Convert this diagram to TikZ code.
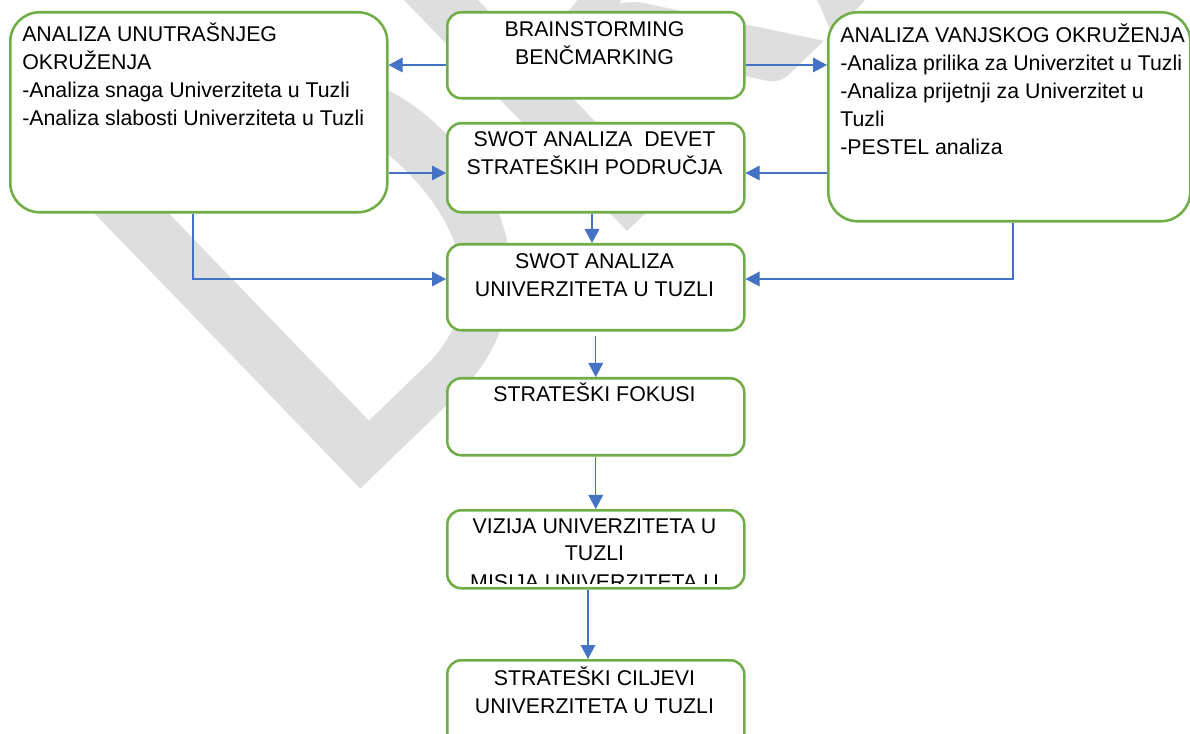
\documentclass[tikz,border=0pt]{standalone}
\usepackage{fontspec}
\setmainfont{Liberation Sans}
\newfontfamily\wmfont{Carlito}
\usetikzlibrary{arrows.meta,calc}
\definecolor{boxgreen}{RGB}{112,173,71}
\definecolor{arrblue}{RGB}{68,114,196}
\definecolor{wmgray}{RGB}{222,222,222}
\begin{document}
\begin{tikzpicture}[x=0.75pt,y=-0.75pt,
  box/.style={draw=boxgreen, line width=1.9pt, fill=white, rounded corners=10.5pt, inner sep=0pt, anchor=north west},
  bigbox/.style={box, rounded corners=22pt},
  txt/.style={inner sep=0pt, font=\fontsize{16}{21}\selectfont, text=black},
  arr/.style={draw=arrblue, line width=0.8pt, -{Triangle[length=10.5pt,width=11pt]}},
]
\useasboundingbox (0,0) rectangle (1190,734);
% watermark
\node[rotate=44, anchor=base west, inner sep=0pt, text=wmgray, font=\wmfont\fontsize{450}{450}\selectfont] (wm) at (331,518) {DRAFT};

% boxes
\node[bigbox, minimum width=282.75pt, minimum height=150pt] (lb) at (9,11) {};
\node[box, minimum width=222.75pt, minimum height=64.5pt] (bs) at (446,11) {};
\node[box, minimum width=222.75pt, minimum height=66.75pt] (sd) at (446,122) {};
\node[bigbox, minimum width=271.5pt, minimum height=156.75pt] (rb) at (827,11) {};
\node[box, minimum width=222.75pt, minimum height=64.5pt] (su) at (446,243) {};
\node[box, minimum width=222.75pt, minimum height=57.75pt] (fk) at (446,377) {};
\node[box, minimum width=222.75pt, minimum height=58.5pt] (vz) at (446,509) {};
\node[box, minimum width=222.75pt, minimum height=67.5pt] (cj) at (446,659) {};

% texts (base anchor = baseline of the last line)
\node[txt, anchor=base west, align=left] (lbt) at (22,126) {ANALIZA UNUTRAŠNJEG\\OKRUŽENJA\\-Analiza snaga Univerziteta u Tuzli\\-Analiza slabosti Univerziteta u Tuzli};
\node[txt, anchor=base, align=center] (bst) at (594.5,65) {BRAINSTORMING\\BENČMARKING};
\node[txt, anchor=base, align=center] (sdt) at (594.5,175) {SWOT ANALIZA\ \ DEVET\\STRATEŠKIH PODRUČJA};
\node[txt, anchor=base west, align=left] (rbt) at (840,155) {ANALIZA VANJSKOG OKRUŽENJA\\-Analiza prilika za Univerzitet u Tuzli\\-Analiza prijetnji za Univerzitet u\\Tuzli\\-PESTEL analiza};
\node[txt, anchor=base, align=center] (sut) at (594.5,297) {SWOT ANALIZA\\UNIVERZITETA U TUZLI};
\node[txt, anchor=base, align=center] (fkt) at (594.5,402) {STRATEŠKI FOKUSI};
\begin{scope}
  \clip (448,511) rectangle (741,583);
  \node[txt, anchor=base, align=center] (vzt) at (594.5,589) {VIZIJA UNIVERZITETA U\\TUZLI\\MISIJA UNIVERZITETA U};
\end{scope}
\node[txt, anchor=base, align=center] (cjt) at (594.5,713) {STRATEŠKI CILJEVI\\UNIVERZITETA U TUZLI};

% helper coordinates
\coordinate (y65) at (0,65);
\coordinate (y173) at (0,173);
\coordinate (y279) at (0,279);
\coordinate (x193) at (193,0);
\coordinate (x1013) at (1013,0);
\coordinate (x592) at (592,0);
\coordinate (x588) at (588,0);

% connectors
\draw[arr] (bs.west |- y65) -- (lb.east |- y65);
\draw[arr] (bs.east |- y65) -- (rb.west |- y65);
\draw[arr] (lb.east |- y173) -- (sd.west |- y173);
\draw[arr] (rb.west |- y173) -- (sd.east |- y173);
\draw[arr] (sd.south -| x592) -- (su.north -| x592);
\draw[arr] (lb.south -| x193) |- (su.west |- y279);
\draw[arr] (rb.south -| x1013) |- (su.east |- y279);
\draw[arr] ($(su.south)+(0,4)$) -- (fk.north);
\draw[arr] (fk.south) -- (vz.north);
\draw[arr] (vz.south -| x588) -- (cj.north -| x588);
\end{tikzpicture}
\end{document}
